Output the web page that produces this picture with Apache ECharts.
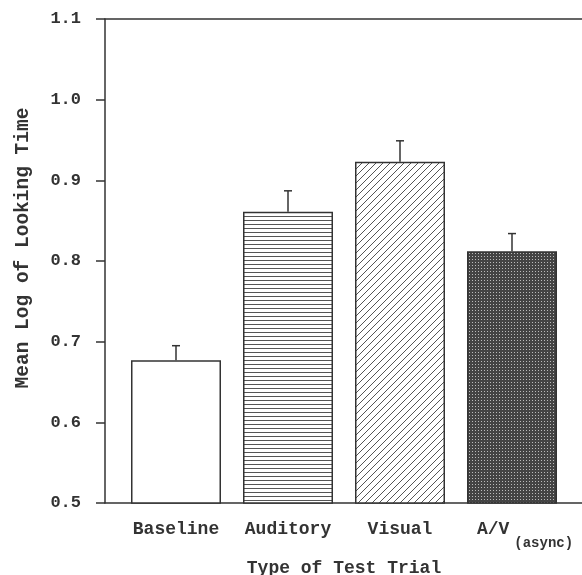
<!DOCTYPE html>
<html>
<head>
<meta charset="utf-8">
<script src="https://cdn.jsdelivr.net/npm/echarts@6/dist/echarts.min.js"></script>
<style>
html, body { margin: 0; padding: 0; background: #fff; }
#main { width: 582px; height: 575px; }
</style>
</head>
<body>
<div id="main"></div>
<script>
	'use strict';

	// data
	var categories = ['Baseline', 'Auditory', 'Visual', 'A/V'];
	var meanLog = [0.677, 0.861, 0.923, 0.812];
	var stdErr = [0.018, 0.026, 0.026, 0.022];
	var yTicks = [0.5, 0.6, 0.7, 0.8, 0.9, 1.0, 1.1];

	var ink = '#333';
	var font = '"Liberation Mono", monospace';

	// small canvas tiles used as fill patterns
	function makeTile(w, h, draw) {
		var c = document.createElement('canvas');
		c.width = w;
		c.height = h;
		var ctx = c.getContext('2d');
		ctx.fillStyle = '#fff';
		ctx.fillRect(0, 0, w, h);
		draw(ctx);
		return {image: c, repeat: 'repeat'};
	}

	var fills = [
		'#fff',
		makeTile(4, 4, function(ctx) {
			ctx.fillStyle = '#555';
			ctx.fillRect(0, 0, 4, 1);
		}),
		makeTile(7, 7, function(ctx) {
			ctx.strokeStyle = '#555';
			ctx.lineWidth = 1;
			ctx.beginPath();
			ctx.moveTo(-1, 8);
			ctx.lineTo(8, -1);
			ctx.moveTo(-1, 1);
			ctx.lineTo(1, -1);
			ctx.moveTo(6, 8);
			ctx.lineTo(8, 6);
			ctx.stroke();
		}),
		makeTile(3, 3, function(ctx) {
			ctx.fillStyle = '#444';
			ctx.fillRect(0, 0, 3, 3);
			ctx.fillStyle = '#bbb';
			ctx.fillRect(1, 1, 1, 1);
		})
	];

	var barData = meanLog.map(function(v, i) {
		return {value: v, itemStyle: {color: fills[i]}};
	});

	var errData = meanLog.map(function(v, i) {
		return [i, v, v + stdErr[i]];
	});

	var chart = echarts.init(document.getElementById('main'), null, {renderer: 'canvas'});

	var textStyle = {fontFamily: font, fontSize: 18, fontWeight: 'bold', color: ink};

	var option = {
		animation: false,
		backgroundColor: '#fff',
		grid: [
			// frame: left axis, bottom and top lines
			{left: 105, right: 0, top: 19, bottom: 72, outerBoundsMode: 'none'},
			// bars
			{left: 120, width: 448, top: 19, bottom: 72, outerBoundsMode: 'none'}
		],
		xAxis: [{
			gridIndex: 0,
			type: 'value',
			min: 0,
			max: 1,
			axisLine: {show: true, onZero: false, lineStyle: {color: ink, width: 1.5}},
			axisTick: {show: false},
			axisLabel: {show: false},
			splitLine: {show: false}
		}, {
			gridIndex: 0,
			type: 'value',
			position: 'top',
			min: 0,
			max: 1,
			axisLine: {show: true, onZero: false, lineStyle: {color: ink, width: 1.5}},
			axisTick: {show: false},
			axisLabel: {show: false},
			splitLine: {show: false}
		}, {
			gridIndex: 1,
			type: 'category',
			data: categories,
			axisLine: {show: false},
			axisTick: {show: false},
			axisLabel: {
				interval: 0,
				margin: 17,
				formatter: function(v) {
					if(v === 'A/V') {
						return '{a|A/V}{s|(async)}';
					}
					return '{n|' + v + '}';
				},
				rich: {
					n: {
						fontFamily: font,
						fontSize: 18,
						fontWeight: 'bold',
						color: ink,
						lineHeight: 19,
						verticalAlign: 'top'
					},
					a: {
						fontFamily: font,
						fontSize: 18,
						fontWeight: 'bold',
						color: ink,
						lineHeight: 19,
						padding: [0, 0, 0, 26],
						verticalAlign: 'top'
					},
					s: {
						fontFamily: font,
						fontSize: 14,
						fontWeight: 'bold',
						color: ink,
						lineHeight: 30,
						padding: [0, 0, 0, 5],
						verticalAlign: 'bottom'
					}
				}
			},
			name: 'Type of Test Trial',
			nameLocation: 'middle',
			nameGap: 56,
			nameTextStyle: textStyle
		}],
		yAxis: [{
			gridIndex: 0,
			type: 'value',
			min: 0.5,
			max: 1.1,
			interval: 0.1,
			axisLine: {show: true, lineStyle: {color: ink, width: 1.5}},
			axisTick: {show: true, length: 9, lineStyle: {color: ink, width: 1.5}},
			axisLabel: {
				margin: 24,
				fontFamily: font,
				fontSize: 17,
				fontWeight: 'bold',
				color: ink,
				formatter: function(v) {
					return v.toFixed(1);
				},
				customValues: yTicks
			},
			splitLine: {show: false},
			name: 'Mean Log of Looking Time',
			nameLocation: 'middle',
			nameGap: 72,
			nameTextStyle: {
				fontFamily: font,
				fontSize: 19.5,
				fontWeight: 'bold',
				color: ink,
				padding: [0, 0, 0, 26]
			}
		}, {
			gridIndex: 1,
			type: 'value',
			min: 0.5,
			max: 1.1,
			interval: 0.1,
			show: false
		}],
		series: [{
			type: 'bar',
			xAxisIndex: 2,
			yAxisIndex: 1,
			barWidth: 90,
			data: barData,
			itemStyle: {borderColor: ink, borderWidth: 1.5},
			z: 2
		}, {
			type: 'custom',
			xAxisIndex: 2,
			yAxisIndex: 1,
			data: errData,
			z: 3,
			renderItem: function(params, api) {
				var base = api.coord([api.value(0), api.value(1)]);
				var top = api.coord([api.value(0), api.value(2)]);
				var cap = 4;
				return {
					type: 'group',
					children: [{
						type: 'line',
						shape: {x1: base[0], y1: base[1], x2: top[0], y2: top[1]},
						style: {stroke: ink, lineWidth: 1.5}
					}, {
						type: 'line',
						shape: {x1: top[0] - cap, y1: top[1], x2: top[0] + cap, y2: top[1]},
						style: {stroke: ink, lineWidth: 1.5}
					}]
				};
			}
		}]
	};

	chart.setOption(option);
</script>
</body>
</html>
